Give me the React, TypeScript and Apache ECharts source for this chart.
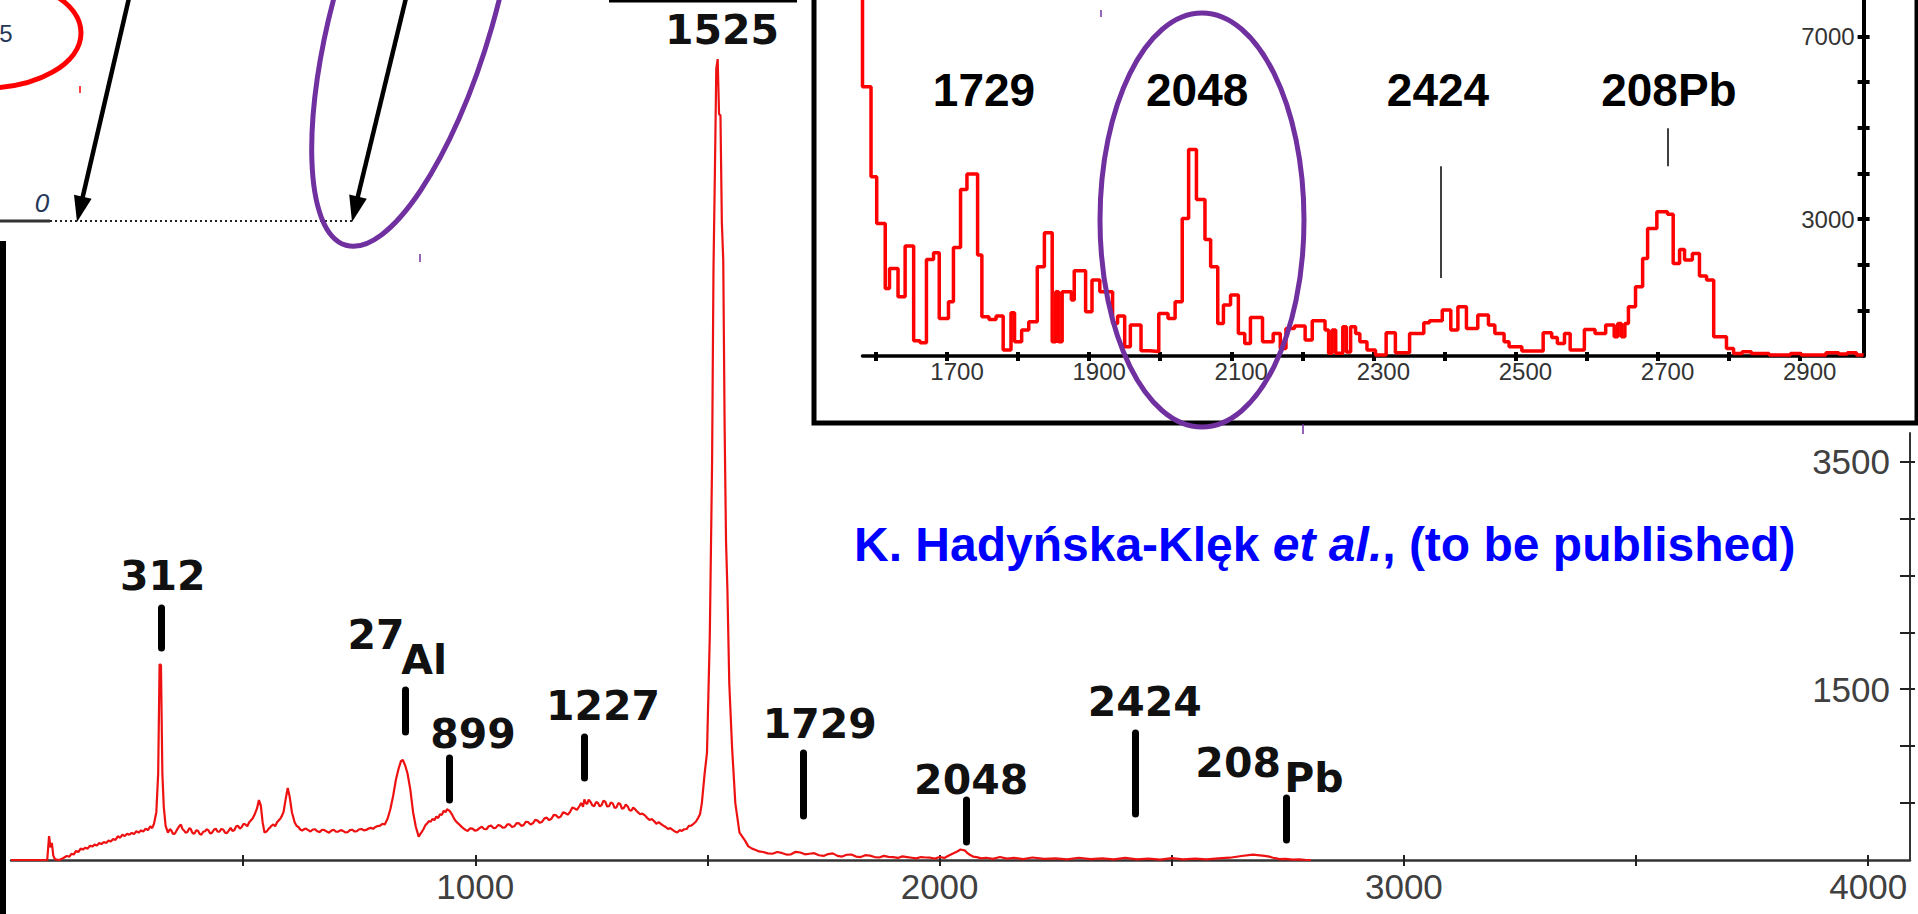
import React, { useEffect, useRef } from 'react';
import * as echarts from 'echarts';

// ---------------- main spectrum (energy, counts) ----------------
const mainEnergy = [0, 78, 82, 85, 88, 91, 95, 104, 112, 120, 126, 130, 135, 140, 145, 150, 155, 160, 165, 170, 175, 180, 185, 190, 195, 200, 205, 210, 215, 220, 225, 230, 235, 240, 245, 250, 255, 260, 265, 270, 275, 280, 285, 290, 295, 300, 304, 308, 313, 317, 320, 323, 326, 329, 333, 338, 342, 345, 349, 353, 357, 360, 363, 366, 369, 372, 376, 380, 384, 387, 391, 395, 399, 403, 406, 410, 414, 418, 421, 425, 429, 433, 437, 441, 445, 449, 453, 457, 461, 465, 469, 473, 477, 481, 485, 489, 493, 497, 501, 505, 509, 513, 517, 520, 525, 530, 534, 538, 542, 546, 551, 554, 557, 561, 565, 569, 573, 577, 580, 584, 587, 592, 596, 600, 605, 611, 615, 619, 623, 627, 631, 635, 640, 645, 650, 655, 660, 665, 670, 675, 680, 685, 690, 695, 700, 705, 710, 715, 720, 725, 730, 735, 740, 745, 750, 755, 760, 765, 770, 775, 780, 785, 790, 795, 800, 805, 811, 817, 823, 829, 835, 840, 844, 849, 854, 860, 866, 872, 878, 884, 888, 892, 896, 900, 904, 908, 912, 916, 920, 924, 928, 932, 936, 939, 942, 945, 949, 952, 956, 960, 964, 968, 972, 976, 980, 984, 989, 994, 999, 1004, 1009, 1014, 1019, 1024, 1029, 1034, 1039, 1044, 1049, 1054, 1059, 1064, 1069, 1074, 1079, 1084, 1089, 1094, 1099, 1104, 1109, 1114, 1119, 1124, 1129, 1134, 1139, 1144, 1149, 1154, 1159, 1164, 1169, 1174, 1179, 1184, 1189, 1194, 1199, 1204, 1209, 1214, 1219, 1224, 1228, 1232, 1235, 1238, 1241, 1244, 1248, 1252, 1256, 1260, 1264, 1268, 1272, 1276, 1280, 1284, 1288, 1292, 1296, 1300, 1304, 1308, 1312, 1316, 1320, 1324, 1328, 1332, 1336, 1340, 1345, 1350, 1355, 1360, 1365, 1370, 1375, 1380, 1385, 1390, 1395, 1400, 1405, 1410, 1415, 1420, 1425, 1430, 1435, 1440, 1445, 1450, 1455, 1460, 1465, 1470, 1475, 1480, 1484, 1488, 1494, 1499, 1505, 1510, 1513, 1516, 1519, 1522, 1525, 1528, 1531, 1534, 1537, 1540, 1543, 1547, 1553, 1560, 1569, 1581, 1588, 1596, 1604, 1611, 1620, 1630, 1640, 1650, 1660, 1670, 1680, 1690, 1700, 1710, 1720, 1730, 1740, 1750, 1760, 1770, 1780, 1790, 1800, 1810, 1820, 1830, 1840, 1850, 1860, 1870, 1880, 1890, 1900, 1910, 1920, 1930, 1940, 1950, 1960, 1970, 1980, 1990, 2000, 2010, 2020, 2030, 2038, 2045, 2050, 2055, 2060, 2065, 2072, 2080, 2090, 2100, 2115, 2130, 2145, 2160, 2180, 2200, 2225, 2250, 2275, 2300, 2325, 2350, 2375, 2400, 2425, 2450, 2475, 2500, 2525, 2550, 2575, 2600, 2625, 2650, 2675, 2700, 2710, 2718, 2725, 2732, 2745, 2760, 2775, 2790, 2800, 2812, 2830, 4090];
const mainCounts = [0, 0, 210, 110, 150, 40, 5, 0, 15, 35, 30, 55, 48, 80, 70, 100, 92, 108, 100, 125, 118, 135, 128, 148, 140, 158, 150, 170, 162, 185, 176, 208, 196, 222, 210, 230, 222, 238, 228, 252, 240, 260, 250, 276, 262, 296, 280, 318, 420, 760, 1720, 1712, 760, 470, 300, 240, 270, 262, 228, 232, 262, 282, 300, 312, 275, 262, 240, 246, 280, 272, 236, 232, 262, 256, 230, 222, 248, 252, 270, 262, 232, 240, 266, 276, 248, 250, 272, 268, 240, 236, 258, 282, 256, 262, 296, 300, 276, 290, 318, 312, 296, 332, 350, 362, 402, 455, 527, 480, 330, 240, 252, 270, 282, 300, 312, 296, 332, 350, 362, 392, 422, 545, 632, 560, 420, 330, 300, 290, 268, 258, 270, 276, 262, 250, 268, 270, 252, 245, 266, 262, 250, 240, 258, 266, 248, 250, 262, 256, 242, 244, 262, 266, 250, 254, 270, 272, 260, 264, 276, 282, 274, 290, 298, 302, 318, 312, 362, 446, 562, 705, 805, 870, 878, 830, 760, 620, 420, 290, 205, 242, 268, 302, 320, 342, 336, 362, 350, 382, 368, 402, 396, 432, 420, 447, 438, 430, 406, 382, 352, 332, 318, 302, 286, 272, 262, 256, 278, 276, 258, 262, 280, 292, 272, 270, 296, 302, 280, 282, 306, 302, 284, 286, 312, 312, 290, 296, 324, 322, 300, 306, 336, 332, 312, 322, 352, 346, 326, 336, 366, 372, 350, 362, 396, 392, 370, 382, 418, 412, 398, 422, 462, 452, 440, 472, 500, 468, 532, 500, 492, 530, 512, 480, 472, 508, 502, 470, 482, 520, 512, 470, 472, 506, 497, 458, 462, 500, 492, 450, 457, 486, 472, 440, 432, 460, 442, 420, 402, 408, 392, 370, 352, 360, 342, 318, 332, 316, 302, 290, 272, 280, 264, 250, 242, 262, 256, 270, 272, 300, 302, 318, 336, 370, 402, 502, 763, 940, 1960, 3500, 5200, 6030, 6950, 7034, 6550, 6540, 5600, 5270, 3800, 2800, 2370, 1550, 990, 500, 240, 170, 120, 100, 88, 75, 70, 58, 55, 70, 62, 48, 50, 72, 66, 50, 55, 60, 42, 36, 52, 58, 36, 30, 46, 48, 30, 26, 42, 38, 26, 22, 36, 28, 25, 18, 32, 26, 20, 14, 26, 22, 20, 12, 26, 18, 40, 60, 75, 92, 88, 82, 60, 46, 30, 25, 14, 20, 10, 26, 12, 18, 8, 22, 10, 15, 6, 20, 8, 15, 6, 18, 6, 12, 4, 16, 6, 12, 5, 15, 20, 35, 48, 36, 30, 20, 15, 8, 10, 3, 5, 0, 0];

// ---------------- inset spectrum (bin start energy, counts) ----------------
const insetEnergy = [1570, 1581, 1593, 1601, 1613, 1619, 1631, 1641, 1653, 1662, 1671, 1681, 1689, 1702, 1709, 1719, 1728, 1743, 1749, 1759, 1769, 1779, 1790, 1795, 1805, 1815, 1827, 1837, 1848, 1853, 1857, 1862, 1875, 1879, 1895, 1904, 1915, 1933, 1940, 1950, 1958, 1973, 1985, 1998, 2011, 2021, 2031, 2040, 2051, 2063, 2071, 2081, 2089, 2099, 2110, 2119, 2127, 2144, 2159, 2169, 2177, 2189, 2204, 2214, 2232, 2237, 2242, 2247, 2257, 2262, 2268, 2275, 2281, 2291, 2303, 2318, 2331, 2351, 2371, 2379, 2397, 2409, 2419, 2431, 2447, 2462, 2471, 2484, 2491, 2509, 2539, 2551, 2559, 2569, 2577, 2597, 2612, 2627, 2639, 2644, 2649, 2654, 2659, 2669, 2679, 2686, 2699, 2714, 2722, 2731, 2738, 2749, 2759, 2769, 2779, 2797, 2807, 2819, 2832, 2857, 2887, 2902, 2937, 2955, 2967, 2980, 2990];
const insetCounts = [9000, 5897, 3926, 2904, 1481, 1919, 1298, 2408, 334, 290, 2116, 2262, 824, 1189, 2379, 3649, 3985, 2211, 860, 800, 875, 130, 948, 312, 568, 750, 1955, 2700, 312, 1408, 312, 1408, 1225, 1867, 970, 1663, 1408, 714, 875, 203, 678, 115, 100, 933, 824, 1189, 3014, 4525, 3430, 2554, 1955, 714, 1116, 1335, 495, 276, 846, 312, 495, 167, 605, 656, 349, 772, 568, 60, 568, 60, 641, 90, 640, 495, 312, 130, 20, 510, 70, 495, 729, 773, 1006, 568, 1079, 605, 897, 678, 495, 312, 203, 108, 510, 408, 276, 495, 130, 583, 495, 678, 422, 714, 422, 714, 1079, 1517, 2137, 2795, 3160, 3108, 2028, 2335, 2101, 2247, 1751, 1663, 422, 167, 57, 93, 57, 20, 57, 20, 72, 42, 72, 20, 20];

// ---------------- axes ----------------
const mainXTicks = [500, 1000, 1500, 2000, 2500, 3000, 3500, 4000];
const mainXLabels = [1000, 2000, 3000, 4000];
const mainYTicks = [500, 1000, 1500, 2000, 2500, 3000, 3500];
const mainYLabels = [1500, 3500];
const insetXTicks = [1600, 1700, 1800, 1900, 2000, 2100, 2200, 2300, 2400, 2500, 2600, 2700, 2800, 2900];
const insetXLabels = [1700, 1900, 2100, 2300, 2500, 2700, 2900];
const insetYTicks = [1000, 2000, 3000, 4000, 5000, 6000, 7000];
const insetYLabels = [3000, 7000];

// ---------------- annotations (data units) ----------------
const markerEnergy = [323, 849, 943, 1234, 1706, 2058, 2421, 2746];
const markerTop = [2213, 1493, 896, 1080, 940, 527, 1115, 544];
const markerBottom = [1862, 1124, 527, 720, 386, 158, 404, 176];

const mainLabelText = ['312', '27', 'Al', '899', '1227', '1729', '2048', '2424', '208', 'Pb'];
const mainLabelEnergy = [327, 786, 890, 995, 1275, 1742, 2068, 2442, 2643, 2806];
const mainLabelCount = [2494, 1976, 1756, 1107, 1352, 1194, 703, 1388, 852, 720];
const topPeakLabel = '1525';

const insetLabelText = ['1729', '2048', '2424', '208Pb'];
const insetLabelEnergy = [1752, 2052, 2391, 2716];
const insetLabelCount = [5824, 5824, 5824, 5824];

const insetLineEnergy = [2395, 2715];
const insetLineFrom = [1708, 4160];
const insetLineTo = [4160, 4992];

const FONT = 'Liberation Sans, Arial, sans-serif';
const plain = (v: number) => String(v);

export default function App() {
  const ref = useRef<HTMLDivElement>(null);
  useEffect(() => {
    if (!ref.current) return;
    const chart = echarts.init(ref.current, undefined, { renderer: 'svg' });

    const mainData = mainEnergy.map((e, i) => [e, mainCounts[i]]);
    const insetData = insetEnergy.map((e, i) => [e, insetCounts[i]]);

    const axisBase = { splitLine: { show: false } };

    const option: any = {
      animation: false,
      backgroundColor: '#ffffff',
      grid: [
        { left: 11, right: 8, top: 433, bottom: 54 },
        { left: 862.5, right: 54.4, top: 0, bottom: 558 },
      ],
      xAxis: [
        {
          ...axisBase, type: 'value', gridIndex: 0, position: 'bottom', min: 0, max: 4090,
          axisLine: { show: true, onZero: false, lineStyle: { color: '#333', width: 2.5 } },
          axisTick: { show: true, customValues: mainXTicks, length: 6, lineStyle: { color: '#222', width: 2 } },
          axisLabel: { show: true, customValues: mainXLabels, formatter: plain, margin: 9, fontSize: 35, fontFamily: FONT, color: '#404040' },
        },
        {
          ...axisBase, type: 'value', gridIndex: 0, position: 'bottom', min: 0, max: 4090,
          axisLine: { show: false, onZero: false },
          axisTick: { show: true, inside: true, customValues: mainXTicks, length: 5, lineStyle: { color: '#222', width: 2 } },
          axisLabel: { show: false },
        },
        {
          ...axisBase, type: 'value', gridIndex: 1, position: 'bottom', min: 1581, max: 2990,
          axisLine: { show: true, onZero: false, lineStyle: { color: '#000', width: 3.5 } },
          axisTick: { show: true, customValues: insetXTicks, length: 5, lineStyle: { color: '#000', width: 4 } },
          axisLabel: { show: true, customValues: insetXLabels, formatter: plain, margin: 3, fontSize: 24, fontFamily: FONT, color: '#333', padding: [0, 0, 0, 20] },
        },
        {
          ...axisBase, type: 'value', gridIndex: 1, position: 'bottom', min: 1581, max: 2990,
          axisLine: { show: false, onZero: false },
          axisTick: { show: true, inside: true, customValues: insetXTicks, length: 4, lineStyle: { color: '#000', width: 4 } },
          axisLabel: { show: false },
        },
      ],
      yAxis: [
        {
          ...axisBase, type: 'value', gridIndex: 0, position: 'right', min: 0, max: 3750,
          axisLine: { show: true, onZero: false, lineStyle: { color: '#333', width: 2 } },
          axisTick: { show: true, inside: true, customValues: mainYTicks, length: 10, lineStyle: { color: '#222', width: 2 } },
          axisLabel: { show: true, inside: true, customValues: mainYLabels, formatter: plain, margin: 20, fontSize: 35, fontFamily: FONT, color: '#404040' },
        },
        {
          ...axisBase, type: 'value', gridIndex: 0, position: 'right', min: 0, max: 3750,
          axisLine: { show: false, onZero: false },
          axisTick: { show: true, customValues: mainYTicks, length: 5, lineStyle: { color: '#222', width: 2 } },
          axisLabel: { show: false },
        },
        {
          ...axisBase, type: 'value', gridIndex: 1, position: 'right', min: 0, max: 7800,
          axisLine: { show: true, onZero: false, lineStyle: { color: '#000', width: 4 } },
          axisTick: { show: true, inside: true, customValues: insetYTicks, length: 6, lineStyle: { color: '#000', width: 4 } },
          axisLabel: { show: true, inside: true, customValues: insetYLabels, formatter: plain, margin: 9, fontSize: 24, fontFamily: FONT, color: '#333' },
        },
        {
          ...axisBase, type: 'value', gridIndex: 1, position: 'right', min: 0, max: 7800,
          axisLine: { show: false, onZero: false },
          axisTick: { show: true, customValues: insetYTicks, length: 6, lineStyle: { color: '#000', width: 4 } },
          axisLabel: { show: false },
        },
      ],
      series: [
        {
          type: 'line', xAxisIndex: 0, yAxisIndex: 0, data: mainData, showSymbol: false, clip: false,
          lineStyle: { color: '#ee1111', width: 2.2 }, z: 3, silent: true,
          markLine: {
            silent: true, symbol: ['none', 'none'], label: { show: false },
            lineStyle: { color: '#000', width: 7, type: 'solid', cap: 'round' },
            data: markerEnergy.map((e, i) => [{ coord: [e, markerTop[i]] }, { coord: [e, markerBottom[i]] }]),
          },
          markPoint: {
            silent: true, symbol: 'rect', symbolSize: 1, itemStyle: { color: 'rgba(0,0,0,0)' },
            label: { show: true, position: 'inside', formatter: '{b}', fontSize: 41, fontWeight: 'bold', fontFamily: 'DejaVu Sans, sans-serif', color: '#111' },
            data: mainLabelText.map((t, i) => ({ name: t, coord: [mainLabelEnergy[i], mainLabelCount[i]] })),
          },
        },
        {
          type: 'line', xAxisIndex: 2, yAxisIndex: 2, data: insetData, showSymbol: false, step: 'end',
          lineStyle: { color: '#ff0000', width: 3.5 }, z: 3, silent: true,
          markLine: {
            silent: true, symbol: ['none', 'none'], label: { show: false },
            lineStyle: { color: '#000', width: 1.5, type: 'solid' },
            data: insetLineEnergy.map((e, i) => [{ coord: [e, insetLineFrom[i]] }, { coord: [e, insetLineTo[i]] }]),
          },
          markPoint: {
            silent: true, symbol: 'rect', symbolSize: 1, itemStyle: { color: 'rgba(0,0,0,0)' },
            label: { show: true, position: 'inside', formatter: '{b}', fontSize: 46, fontWeight: 'bold', fontFamily: FONT, color: '#000' },
            data: insetLabelText.map((t, i) => ({ name: t, coord: [insetLabelEnergy[i], insetLabelCount[i]] })),
          },
        },
      ],
      graphic: [
        // inset frame
        { type: 'rect', z: -1, silent: true, shape: { x: 814, y: -10, width: 1103, height: 433 }, style: { fill: '#fff', stroke: '#000', lineWidth: 5 } },
        // inset purple ellipse
        { type: 'ellipse', z: 100, silent: true, shape: { cx: 1202, cy: 220, rx: 102, ry: 207 }, style: { fill: 'none', stroke: '#7030a0', lineWidth: 5 } },
        { type: 'line', z: 100, silent: true, shape: { x1: 1101, y1: 10, x2: 1101, y2: 17 }, style: { stroke: '#7030a0', lineWidth: 1.5 } },
        { type: 'line', z: 100, silent: true, shape: { x1: 1303, y1: 424, x2: 1303, y2: 434 }, style: { stroke: '#7030a0', lineWidth: 1.5 } },
        // top-left fragment of neighbouring figure
        { type: 'ellipse', z: 100, silent: true, x: 415, y: 5, rotation: -0.28, shape: { cx: 0, cy: 0, rx: 80, ry: 250 }, style: { fill: 'none', stroke: '#7030a0', lineWidth: 5 } },
        { type: 'ellipse', z: 100, silent: true, shape: { cx: -15, cy: 33, rx: 96, ry: 55 }, style: { fill: 'none', stroke: '#ff0000', lineWidth: 5 } },
        { type: 'line', z: 100, silent: true, shape: { x1: 80, y1: 86, x2: 80, y2: 93 }, style: { stroke: '#ff0000', lineWidth: 1.5 } },
        { type: 'line', z: 100, silent: true, shape: { x1: 420, y1: 254, x2: 420, y2: 262 }, style: { stroke: '#7030a0', lineWidth: 1.5 } },
        { type: 'line', z: 90, silent: true, shape: { x1: 0, y1: 221, x2: 50, y2: 221 }, style: { stroke: '#333', lineWidth: 3 } },
        { type: 'line', z: 90, silent: true, shape: { x1: 50, y1: 221, x2: 352, y2: 221 }, style: { stroke: '#222', lineWidth: 2, lineDash: [2, 3] } },
        { type: 'line', z: 95, silent: true, shape: { x1: 129, y1: -2, x2: 82, y2: 200 }, style: { stroke: '#000', lineWidth: 4.5 } },
        { type: 'polygon', z: 95, silent: true, shape: { points: [[77, 222], [91.6, 198.7], [74, 194.7]] }, style: { fill: '#000' } },
        { type: 'line', z: 95, silent: true, shape: { x1: 406, y1: -2, x2: 357, y2: 200 }, style: { stroke: '#000', lineWidth: 4.5 } },
        { type: 'polygon', z: 95, silent: true, shape: { points: [[352, 222], [366.8, 198.8], [349.2, 194.6]] }, style: { fill: '#000' } },
        { type: 'text', z: 95, silent: true, style: { x: 42, y: 203, text: '0', font: 'italic 26px Liberation Sans', fill: '#253858', align: 'center', verticalAlign: 'middle' } },
        { type: 'text', z: 95, silent: true, style: { x: 6, y: 33, text: '5', font: '24px Liberation Sans', fill: '#253858', align: 'center', verticalAlign: 'middle' } },
        { type: 'rect', z: 95, silent: true, shape: { x: -2, y: 241, width: 8, height: 680 }, style: { fill: '#000' } },
        { type: 'line', z: 95, silent: true, shape: { x1: 609, y1: 1, x2: 797, y2: 1 }, style: { stroke: '#000', lineWidth: 3 } },
        // label of the main peak, above the plotted range
        { type: 'text', z: 95, silent: true, style: { x: 722, y: 30, text: topPeakLabel, font: 'bold 41px DejaVu Sans', fill: '#111', align: 'center', verticalAlign: 'middle' } },
        // citation
        {
          type: 'text', z: 95, silent: true,
          style: {
            x: 854, y: 544, verticalAlign: 'middle', align: 'left',
            text: '{b|K. Hadyńska-Klęk }{i|et al.}{b|, (to be published)}',
            rich: {
              b: { fontSize: 48, fontWeight: 'bold', fontFamily: FONT, fill: '#0000ff', color: '#0000ff' },
              i: { fontSize: 48, fontWeight: 'bold', fontStyle: 'italic', fontFamily: FONT, fill: '#0000ff', color: '#0000ff' },
            },
          },
        },
      ],
    };

    chart.setOption(option);
    return () => chart.dispose();
  }, []);

  return <div ref={ref} style={{ position: 'fixed', left: 0, top: 0, width: 1918, height: 914, background: '#fff' }} />;
}
